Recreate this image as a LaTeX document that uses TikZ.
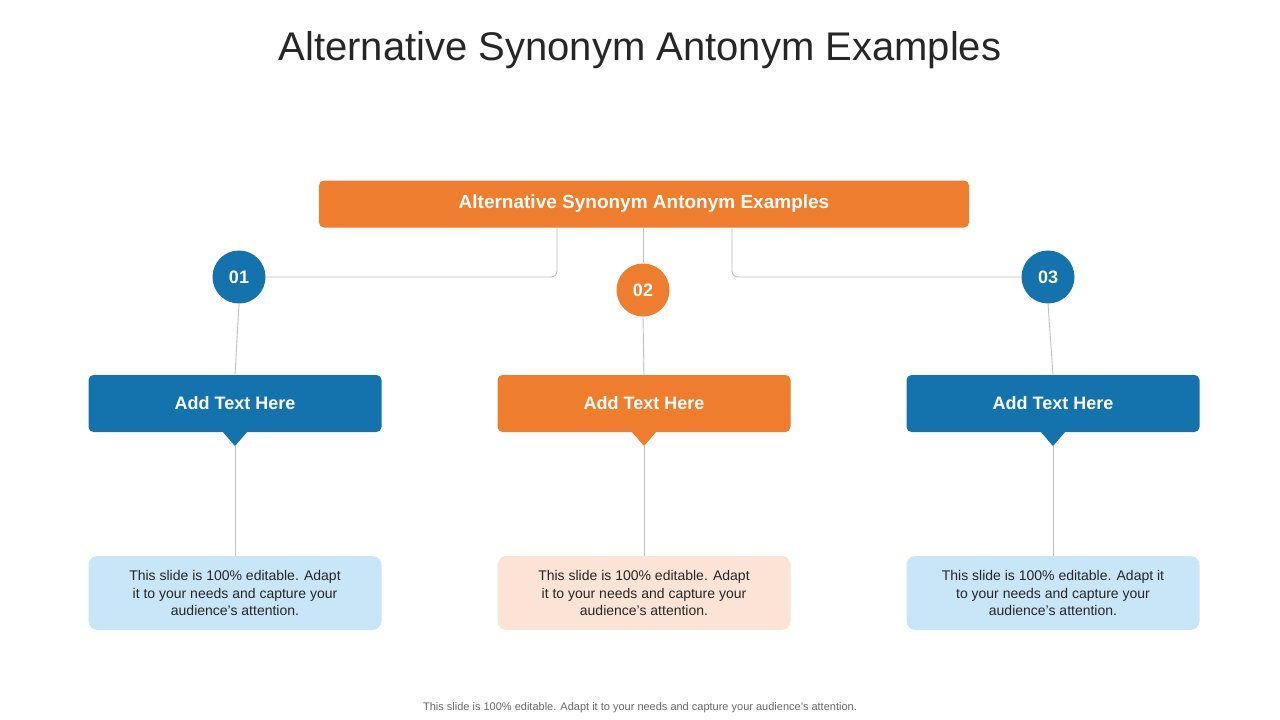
\documentclass[tikz,border=0pt]{standalone}
\usepackage{fontspec}
\setmainfont{Liberation Sans}
\definecolor{bl}{HTML}{1472AD}
\definecolor{og}{HTML}{EE7D2D}
\definecolor{lbl}{HTML}{C9E5F8}
\definecolor{log}{HTML}{FBE4D5}
\definecolor{ln}{HTML}{BFBFBF}
\definecolor{tx}{HTML}{262626}
\begin{document}
\begin{tikzpicture}[x=1pt,y=-1pt,
 hd/.style={rounded corners=5pt,minimum height=57pt,minimum width=293pt,text=white,font=\fontsize{18}{20}\selectfont\bfseries,inner sep=0},
 ds/.style={rounded corners=9pt,minimum height=74pt,minimum width=293pt,text=tx,align=center,font=\fontsize{14}{17.5}\selectfont,inner sep=0},
 num/.style={circle,minimum size=53pt,text=white,font=\fontsize{18}{20}\selectfont\bfseries,inner sep=0},
 con/.style={ln,line width=0.9pt}]
\useasboundingbox (0,0) rectangle (1280,720);
\node[text=tx,font=\fontsize{40}{46}\selectfont] (title) at (640,50) {Alternative Synonym Antonym Examples};
\node[fill=og,rounded corners=5pt,minimum width=650pt,minimum height=47pt,text=white,font=\fontsize{19}{22}\selectfont\bfseries] (top) at (644,204) {Alternative Synonym Antonym Examples};
\coordinate (tl) at (557,227.5);
\coordinate (tr) at (732,227.5);
\coordinate (tm) at (643,227.5);
\node[num,fill=bl] (n1) at (239,277) {01};
\node[num,fill=og] (n2) at (643,290) {02};
\node[num,fill=bl] (n3) at (1048,277) {03};
\draw[con,rounded corners=6pt] (tl) |- (n1);
\draw[con,rounded corners=6pt] (tr) |- (n3);
\draw[con] (tm) -- (n2);
\foreach \i/\x/\c/\l/\t in {1/235/bl/lbl/{This slide is 100\% editable.  Adapt\\it to your needs and capture your\\audience's attention.},2/644/og/log/{This slide is 100\% editable.  Adapt\\it to your needs and capture your\\audience's attention.},3/1053/bl/lbl/{This slide is 100\% editable.  Adapt it\\to your needs and capture your\\audience's attention.}}{
 \node[hd,fill=\c] (h\i) at (\x,403.5) {Add Text Here};
 \fill[\c] (\x-13,431) -- (\x,446) -- (\x+13,431) -- cycle;
 \node[ds,fill=\l] (d\i) at (\x,593) {\t};
 \draw[con] (\x,446) -- (d\i.north);
}
\draw[con] (n1.south) -- (h1.north);
\draw[con] (n2.south) -- (h2.north);
\draw[con] (n3.south) -- (h3.north);
\node[text=tx!70,font=\fontsize{11}{13}\selectfont] (foot) at (640,708) {This slide is 100\% editable. Adapt it to your needs and capture your audience's attention.};
\end{tikzpicture}
\end{document}
